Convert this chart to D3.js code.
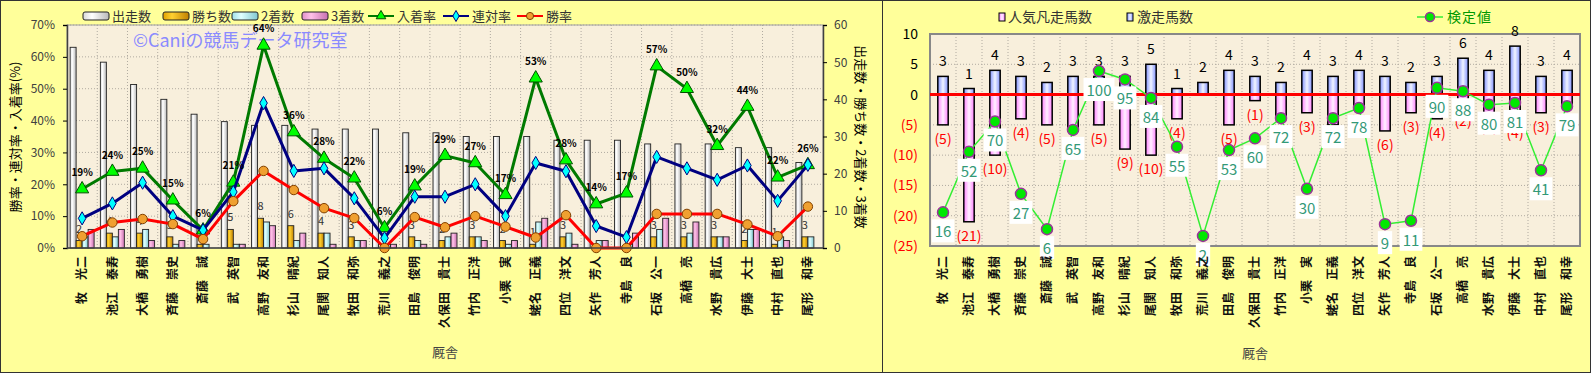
<!DOCTYPE html>
<html><head><meta charset="utf-8">
<script src="https://cdn.jsdelivr.net/npm/d3@7"></script>
<style>
body{margin:0;background:#fff;}
svg{display:block;}
text{font-family:"Noto Sans CJK JP","Liberation Sans",sans-serif;}
</style></head><body>
<svg id="c" width="1594" height="375"></svg>
<script>
// ---------- DATA ----------
const trainers = ["牧　光二","池江　泰寿","大橋　勇樹","斉藤　崇史","斎藤　誠","武　英智","高野　友和","杉山　晴紀","尾関　知人","牧田　和弥","荒川　義之","田島　俊明","久保田　貴士","竹内　正洋","小栗　実","蛯名　正義","四位　洋文","矢作　芳人","寺島　良","石坂　公一","高橋　亮","水野　貴広","伊藤　大士","中村　直也","尾形　和幸"];
const starts  = [54,50,44,40,36,34,33,33,32,32,32,31,31,30,30,30,29,29,29,28,28,28,27,27,23];
const wins    = [2,4,4,3,1,5,8,6,4,3,0,3,2,3,2,1,3,0,0,3,3,3,2,1,3];
const seconds = [3,3,5,1,1,1,7,2,4,2,1,2,3,3,1,7,4,2,1,5,4,3,5,3,3];
const thirds  = [5,5,2,2,0,1,6,4,1,2,1,1,4,2,2,8,1,2,4,8,7,3,5,2,0];
const placeRate  = [18.5,24,25,15,5.6,20.6,63.6,36.4,28.1,21.9,6.3,19.4,29.0,26.7,16.7,53.3,27.6,13.8,17.2,57.1,50,32.1,44.4,22.2,26.1];
const rentaiRate = [9.3,14,20.5,10,5.6,17.6,45.5,24.2,25,15.6,3.1,16.1,16.1,20,10,26.7,24.1,6.9,3.4,28.6,25,21.4,25.9,14.8,26.1];
const winRate    = [3.7,8,9.1,7.5,2.8,14.7,24.2,18.2,12.5,9.4,0,9.7,6.5,10,6.7,3.3,10.3,0,0,10.7,10.7,10.7,7.4,3.7,13];
const pctTicks = [0,10,20,30,40,50,60,70];
const cntTicks = [0,10,20,30,40,50,60];

const gekisou = [3,1,4,3,2,3,3,3,5,1,2,4,3,2,4,3,4,3,2,3,6,4,8,3,4];
const bonsou  = [5,21,10,4,5,6,5,9,10,4,0,5,1,4,3,5,2,6,3,4,2,3,4,3,2];
const kentei  = [16,52,70,27,6,65,100,95,84,55,2,53,60,72,30,72,78,9,11,90,88,80,81,41,79];
const rTicks = [10,5,0,-5,-10,-15,-20,-25];

// ---------- SETUP ----------
const svg = d3.select("#c");
const n = trainers.length;
const defs = svg.append("defs");
function hgrad(id, stops){
  const g = defs.append("linearGradient").attr("id",id).attr("x1","0").attr("x2","1").attr("y1","0").attr("y2","0");
  stops.forEach(s=>g.append("stop").attr("offset",s[0]).attr("stop-color",s[1]));
}
hgrad("gWhite",[[0,"#d8d8d8"],[0.35,"#ffffff"],[1,"#b8b8b8"]]);
hgrad("gGold",[[0,"#e0a000"],[0.35,"#ffd030"],[1,"#c08000"]]);
hgrad("gCyan",[[0,"#a0e0e8"],[0.35,"#e0ffff"],[1,"#80c8d0"]]);
hgrad("gPink",[[0,"#e090c8"],[0.35,"#ffc0e8"],[1,"#c870b0"]]);
hgrad("gBlue",[[0,"#8090ff"],[0.5,"#f0f4ff"],[1,"#8090ff"]]);
hgrad("gMag",[[0,"#ff80ff"],[0.5,"#fff0ff"],[1,"#ff80ff"]]);

// panels
svg.append("rect").attr("x",0.5).attr("y",0.5).attr("width",882).attr("height",372).attr("fill","#ffff9a").attr("stroke","#333");
svg.append("rect").attr("x",882.5).attr("y",0.5).attr("width",708).attr("height",372).attr("fill","#ffff9a").attr("stroke","#333");

const plotBg = "#f8efdc";
const gridC = "#b0aaa0";

// ---------- LEFT CHART ----------
const L = {x0:67,x1:823,y0:25,y1:248};
const xL = d3.scaleBand().domain(d3.range(n)).range([L.x0,L.x1]);
const yP = d3.scaleLinear().domain([0,70]).range([L.y1,L.y0]);
const yC = d3.scaleLinear().domain([0,60]).range([L.y1,L.y0]);
const inner = d3.scaleBand().domain(["s","w","2","3"]).range([0,xL.bandwidth()]).paddingOuter(0.52);

const gl = svg.append("g");
gl.append("rect").attr("x",L.x0).attr("y",L.y0).attr("width",L.x1-L.x0).attr("height",L.y1-L.y0).attr("fill",plotBg);
gl.selectAll(".hg").data(pctTicks.slice(1)).enter().append("line")
  .attr("x1",L.x0).attr("x2",L.x1).attr("y1",d=>yP(d)).attr("y2",d=>yP(d))
  .attr("stroke",gridC).attr("stroke-dasharray","1,2");
gl.selectAll(".vg").data(d3.range(1,n)).enter().append("line")
  .attr("x1",d=>xL(d)).attr("x2",d=>xL(d)).attr("y1",L.y0).attr("y2",L.y1)
  .attr("stroke",gridC).attr("stroke-dasharray","1,2");
gl.append("rect").attr("x",L.x0).attr("y",L.y0).attr("width",L.x1-L.x0).attr("height",L.y1-L.y0).attr("fill","none").attr("stroke","#a0a0a0");

// watermark
gl.append("text").attr("x",133).attr("y",47).attr("font-size",18).attr("fill","#8a8aff").text("©Caniの競馬データ研究室");

// bars
const series = [["s",starts,"gWhite"],["w",wins,"gGold"],["2",seconds,"gCyan"],["3",thirds,"gPink"]];
series.forEach(([k,arr,grad])=>{
  gl.selectAll(null).data(arr).enter().append("rect")
    .attr("x",(d,i)=>xL(i)+inner(k)).attr("width",inner.bandwidth())
    .attr("y",d=>yC(d)).attr("height",d=>yC(0)-yC(d))
    .attr("fill","url(#"+grad+")").attr("stroke","#222").attr("stroke-width",0.9);
});
// win count labels
wins.forEach((d,i)=>{
  if(d>0) gl.append("text").attr("x",xL(i)+inner("w")+inner.bandwidth()/2).attr("y",yC(d)-8)
    .attr("text-anchor","middle").attr("font-size",11).attr("fill","#333").text(d);
});

// lines
const cx = i=>xL(i)+xL.bandwidth()/2;
function drawLine(arr,color,symbol,size,fill,stroke){
  const line = d3.line().x((d,i)=>cx(i)).y(d=>yP(d));
  gl.append("path").datum(arr).attr("d",line).attr("fill","none").attr("stroke",color).attr("stroke-width",3).attr("stroke-linejoin","round");
  gl.selectAll(null).data(arr).enter().append("path")
    .attr("transform",(d,i)=>`translate(${cx(i)},${yP(d)})`)
    .attr("d",d3.symbol().type(symbol).size(size)).attr("fill",fill).attr("stroke",stroke).attr("stroke-width",1);
}
drawLine(placeRate,"#007a00",d3.symbolTriangle,75,"#00ff00","#005000");
drawLine(rentaiRate,"#000080",d3.symbolDiamond,50,"#00ffff","#000080");
drawLine(winRate,"#ff0000",d3.symbolCircle,70,"#f0a030","#804000");
gl.selectAll(null).data(placeRate).enter().append("text")
  .attr("x",(d,i)=>cx(i)).attr("y",d=>yP(d)-13)
  .attr("text-anchor","middle").attr("font-size",10).attr("font-weight","bold")
  .attr("font-family","Liberation Sans, Arial, sans-serif").attr("fill","#000").text(d=>Math.round(d)+"%");

// axes
const axL = gl.append("g").attr("transform",`translate(${L.x0},0)`)
  .call(d3.axisLeft(yP).tickValues(pctTicks).tickSize(4).tickPadding(8).tickFormat(d=>d+"%"));
axL.select(".domain").attr("stroke","#404040").attr("stroke-width",1.5);
axL.selectAll("text").attr("font-size",12).attr("fill","#404040").attr("font-family","Liberation Sans, Arial, sans-serif");
const axR = gl.append("g").attr("transform",`translate(${L.x1},0)`)
  .call(d3.axisRight(yC).tickValues(cntTicks).tickSize(4).tickPadding(7));
axR.select(".domain").attr("stroke","#404040").attr("stroke-width",1.5);
axR.selectAll("text").attr("font-size",12).attr("fill","#404040").attr("font-family","Liberation Sans, Arial, sans-serif");
gl.append("line").attr("x1",L.x0).attr("x2",L.x1).attr("y1",L.y1).attr("y2",L.y1).attr("stroke","#404040").attr("stroke-width",1.5);

// x labels
gl.selectAll(null).data(trainers).enter().append("text")
  .attr("transform",(d,i)=>`translate(${cx(i)},256) rotate(-90)`)
  .attr("text-anchor","end").attr("dy","0.35em").attr("font-size",12).attr("font-weight","bold").attr("fill","#111").text(d=>d);
gl.append("text").attr("x",445).attr("y",357).attr("text-anchor","middle").attr("font-size",13).attr("fill","#444").text("厩舎");
gl.append("text").attr("transform","translate(15,137) rotate(-90)").attr("text-anchor","middle").attr("dy","0.35em")
  .attr("font-size",13).attr("fill","#000").text("勝率・連対率・入着率(%)");
gl.append("text").attr("transform","translate(861,137) rotate(90)").attr("text-anchor","middle").attr("dy","0.35em")
  .attr("font-size",13).attr("fill","#000").text("出走数・勝ち数・2着数・3着数");

// legend left
const legL = gl.append("g").attr("font-size",13).attr("fill","#333");
const boxItems = [["出走数","gWhite",83],["勝ち数","gGold",163],["2着数","gCyan",232],["3着数","gPink",302]];
boxItems.forEach(([t,g,x])=>{
  legL.append("rect").attr("x",x).attr("y",12).attr("width",26).attr("height",8).attr("rx",2).attr("fill","url(#"+g+")").attr("stroke","#222");
  legL.append("text").attr("x",x+29).attr("y",21).attr("fill","#333").text(t);
});
const lineItems = [["入着率","#007a00",d3.symbolTriangle,"#00ff00","#005000",368,40],["連対率","#000080",d3.symbolDiamond,"#00ffff","#000080",443,35],["勝率","#ff0000",d3.symbolCircle,"#f0a030","#804000",517,40]];
lineItems.forEach(([t,c,sym,f,s,x,sz])=>{
  legL.append("line").attr("x1",x).attr("x2",x+26).attr("y1",16).attr("y2",16).attr("stroke",c).attr("stroke-width",2);
  legL.append("path").attr("transform",`translate(${x+13},16)`).attr("d",d3.symbol().type(sym).size(sz)).attr("fill",f).attr("stroke",s);
  legL.append("text").attr("x",x+29).attr("y",21).attr("fill","#333").text(t);
});

// ---------- RIGHT CHART ----------
const R = {x0:930,x1:1580,y0:34,y1:246};
const xR = d3.scaleBand().domain(d3.range(n)).range([R.x0,R.x1]).paddingInner(0.6).paddingOuter(0.3);
const yR = d3.scaleLinear().domain([-25,10]).range([R.y1,R.y0]);
const yK = d3.scaleLinear().domain([-4,122]).range([R.y1,R.y0]);
const rcx = i=>xR(i)+xR.bandwidth()/2;
const gr = svg.append("g");
gr.append("rect").attr("x",R.x0).attr("y",R.y0).attr("width",R.x1-R.x0).attr("height",R.y1-R.y0).attr("fill",plotBg);
gr.selectAll(null).data(rTicks).enter().append("line")
  .attr("x1",R.x0).attr("x2",R.x1).attr("y1",d=>yR(d)).attr("y2",d=>yR(d))
  .attr("stroke",gridC).attr("stroke-dasharray","1,2");
gr.selectAll(null).data(d3.range(1,n)).enter().append("line")
  .attr("x1",d=>rcx(d)-xR.step()/2).attr("x2",d=>rcx(d)-xR.step()/2).attr("y1",R.y0).attr("y2",R.y1)
  .attr("stroke",gridC).attr("stroke-dasharray","1,2");
gr.append("rect").attr("x",R.x0).attr("y",R.y0).attr("width",R.x1-R.x0).attr("height",R.y1-R.y0).attr("fill","none").attr("stroke","#888").attr("stroke-width",2);

// bars
gr.selectAll(null).data(gekisou).enter().append("rect")
  .attr("x",(d,i)=>xR(i)).attr("width",xR.bandwidth()).attr("y",d=>yR(d)).attr("height",d=>yR(0)-yR(d))
  .attr("fill","url(#gBlue)").attr("stroke","#000").attr("stroke-width",1.5);
bonsou.forEach((d,i)=>{
  if(d>0) gr.append("rect").attr("x",xR(i)).attr("width",xR.bandwidth()).attr("y",yR(0)).attr("height",yR(-d)-yR(0))
    .attr("fill","url(#gMag)").attr("stroke","#000").attr("stroke-width",1.5);
});
gr.selectAll(null).data(gekisou).enter().append("text")
  .attr("x",(d,i)=>rcx(i)).attr("y",d=>yR(d)-10).attr("text-anchor","middle").attr("font-size",14).attr("fill","#000")
  .attr("font-family","Liberation Sans, Arial, sans-serif").text(d=>d);
bonsou.forEach((d,i)=>{
  if(d>0) gr.append("text").attr("x",rcx(i)).attr("y",yR(-d)+19).attr("text-anchor","middle").attr("font-size",14)
    .attr("fill","#ff0000").attr("font-family","Liberation Sans, Arial, sans-serif").text("("+d+")");
});
gr.append("line").attr("x1",R.x0).attr("x2",R.x1).attr("y1",yR(0)).attr("y2",yR(0)).attr("stroke","#ff0000").attr("stroke-width",3);
gr.append("path").datum(kentei).attr("d",d3.line().x((d,i)=>rcx(i)).y(d=>yK(d))).attr("fill","none").attr("stroke","#33ee33").attr("stroke-width",1.5);
gr.selectAll(null).data(kentei).enter().append("circle").attr("cx",(d,i)=>rcx(i)).attr("cy",d=>yK(d)).attr("r",5.5)
  .attr("fill","#00e800").attr("stroke","#993399").attr("stroke-width",1.5);
kentei.forEach((d,i)=>{
  const g = gr.append("g");
  const t = g.append("text").attr("x",rcx(i)).attr("y",yK(d)+25).attr("text-anchor","middle").attr("font-size",15)
    .attr("fill","#339977").attr("font-family","Liberation Sans, Arial, sans-serif").text(d);
  const bb = t.node().getBBox();
  g.insert("rect","text").attr("x",bb.x-3).attr("y",bb.y-1).attr("width",bb.width+6).attr("height",bb.height+2).attr("fill","#fff");
});
const axRR = gr.append("g").attr("transform",`translate(${R.x0},0)`)
  .call(d3.axisLeft(yR).tickValues(rTicks).tickSize(0).tickPadding(12).tickFormat(d=>d<0?"("+(-d)+")":d));
axRR.select(".domain").remove();
axRR.selectAll("text").attr("font-size",14).attr("font-family","Liberation Sans, Arial, sans-serif").attr("fill",d=>d<0?"#ff0000":"#000");

gr.selectAll(null).data(trainers).enter().append("text")
  .attr("transform",(d,i)=>`translate(${rcx(i)},256) rotate(-90)`)
  .attr("text-anchor","end").attr("dy","0.35em").attr("font-size",12).attr("font-weight","bold").attr("fill","#111").text(d=>d);
gr.append("text").attr("x",1255).attr("y",358).attr("text-anchor","middle").attr("font-size",13).attr("fill","#444").text("厩舎");

// legend right
const legR = gr.append("g").attr("font-size",14);
legR.append("rect").attr("x",999).attr("y",13).attr("width",6).attr("height",8).attr("fill","url(#gMag)").attr("stroke","#000");
legR.append("text").attr("x",1008).attr("y",22).attr("fill","#333").text("人気凡走馬数");
legR.append("rect").attr("x",1127).attr("y",13).attr("width",6).attr("height",8).attr("fill","url(#gBlue)").attr("stroke","#000");
legR.append("text").attr("x",1137).attr("y",22).attr("fill","#333").text("激走馬数");
legR.append("line").attr("x1",1417).attr("x2",1443).attr("y1",17).attr("y2",17).attr("stroke","#33ee33").attr("stroke-width",1.5);
legR.append("circle").attr("cx",1430).attr("cy",17).attr("r",4.5).attr("fill","#00e800").attr("stroke","#993399").attr("stroke-width",1.5);
legR.append("text").attr("x",1447).attr("y",22).attr("fill","#009900").attr("letter-spacing",1).text("検定値");
</script>
</body></html>
